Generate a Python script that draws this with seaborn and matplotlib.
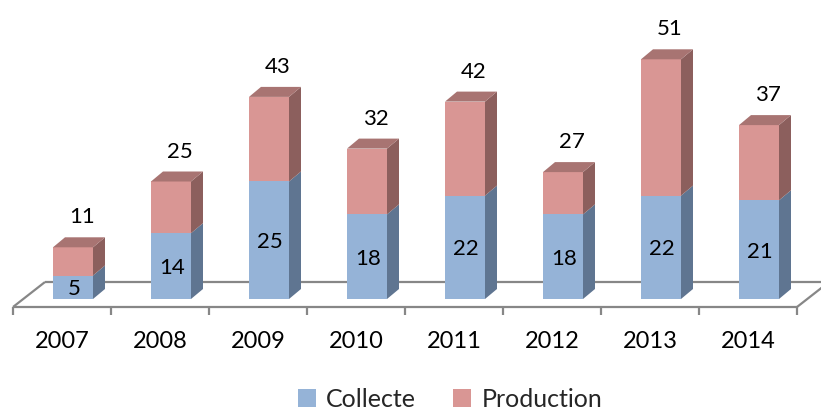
import numpy as np
import pandas as pd
import matplotlib
matplotlib.use("Agg")
import matplotlib.pyplot as plt
from matplotlib.patches import Polygon, Patch
import seaborn as sns

# Data
years = ["2007", "2008", "2009", "2010", "2011", "2012", "2013", "2014"]
collecte = [5, 14, 25, 18, 22, 18, 22, 21]
totals = [11, 25, 43, 32, 42, 27, 51, 37]   # Collecte + Production
series_names = ["Collecte", "Production"]

# Colours (front / side / top faces)
BLUE_FRONT, BLUE_SIDE = "#95B3D7", "#5F7591"
RED_FRONT, RED_SIDE, RED_TOP = "#D99694", "#8C5F5D", "#A87472"
FLOOR = "#878787"

sns.set_theme(style="white")
plt.rcParams["font.family"] = ["Lato", "DejaVu Sans"]

W, H, DPI = 821, 416, 100
fig = plt.figure(figsize=(W / DPI, H / DPI), dpi=DPI)
ax = fig.add_axes([0, 0, 1, 1])

# Pixel geometry of the pseudo-3D frame
PX_X = 98.0          # pixels per category
PX_Y = 4.7           # pixels per unit of value
X0_PX, Y0_PX = 73, 299   # pixel position of the first bar centre / base
BAR_W = 40 / PX_X
DEPTH = (12, 10)     # bar depth (dx, dy) in pixels
FLOOR_GAP = (11, 8)  # floor front edge in front of the bars
FLOOR_DEPTH = (32, 25)

def dx(px):
    return px / PX_X

def dy(px):
    return px / PX_Y

df = pd.DataFrame({"year": years, "Collecte": collecte, "Total": totals})

sns.barplot(data=df, x="year", y="Total", color=RED_FRONT, saturation=1,
            width=BAR_W, errorbar=None, linewidth=0, ax=ax, zorder=3)
sns.barplot(data=df, x="year", y="Collecte", color=BLUE_FRONT, saturation=1,
            width=BAR_W, errorbar=None, linewidth=0, ax=ax, zorder=4)

n = len(years)
ax.set_xlim(-X0_PX / PX_X, (W - X0_PX) / PX_X)
ax.set_ylim(-(H - Y0_PX) / PX_Y, Y0_PX / PX_Y)
ax.axis("off")

patches = list(ax.patches)
red_bars, blue_bars = patches[:n], patches[n:2 * n]
ddx, ddy = dx(DEPTH[0]), dy(DEPTH[1])

# Side and top faces built from the drawn bars
for rb, bb in zip(red_bars, blue_bars):
    xl = rb.get_x()
    xr = xl + rb.get_width()
    c = bb.get_height()
    t = rb.get_height()
    ax.add_patch(Polygon([(xr, 0), (xr + ddx, ddy), (xr + ddx, c + ddy), (xr, c)],
                         closed=True, facecolor=BLUE_SIDE, lw=0, zorder=4))
    ax.add_patch(Polygon([(xr, c), (xr + ddx, c + ddy), (xr + ddx, t + ddy), (xr, t)],
                         closed=True, facecolor=RED_SIDE, lw=0, zorder=4))
    ax.add_patch(Polygon([(xl, t), (xl + ddx, t + ddy), (xr + ddx, t + ddy), (xr, t)],
                         closed=True, facecolor=RED_TOP, lw=0, zorder=4))

# Floor outline
fx0 = -0.5 - dx(FLOOR_GAP[0])
fx1 = n - 0.5 - dx(FLOOR_GAP[0])
fy = -dy(FLOOR_GAP[1])
bx, by = dx(FLOOR_DEPTH[0]), dy(FLOOR_DEPTH[1])
floor_kw = dict(color=FLOOR, lw=1.6, solid_capstyle="butt", zorder=1, clip_on=False)
ax.plot([fx0, fx1], [fy, fy], **floor_kw)
ax.plot([fx0, fx0 + bx], [fy, fy + by], **floor_kw)
ax.plot([fx1, fx1 + bx], [fy, fy + by], **floor_kw)
ax.plot([fx0 + bx, fx1 + bx], [fy + by, fy + by], **floor_kw)

# Category ticks and labels on the floor's front edge
for k in range(n + 1):
    xt = fx0 + k
    ax.plot([xt, xt], [fy, fy - dy(8)], **floor_kw)
for i, yr in enumerate(years):
    ax.text(i - dx(FLOOR_GAP[0]), fy - dy(34), yr, ha="center", va="center",
            fontsize=17, color="black")

# Value labels
for i, (c, t) in enumerate(zip(collecte, totals)):
    ax.annotate(str(c), (i, c / 2), xytext=(1, -2), textcoords="offset pixels",
                ha="center", va="center", fontsize=16, color="black", zorder=6)
    ax.annotate(str(t), (i, t), xytext=(9, 30), textcoords="offset pixels",
                ha="center", va="center", fontsize=16, color="black", zorder=6)

# Legend
handles = [Patch(facecolor=BLUE_FRONT, edgecolor="none"),
           Patch(facecolor=RED_FRONT, edgecolor="none")]
fig.legend(handles, series_names, loc="center", bbox_to_anchor=(0.548, 0.04),
           ncol=2, frameon=False, fontsize=18, handlelength=0.72, handleheight=0.72,
           handletextpad=0.4, columnspacing=1.5, borderpad=0)

fig.savefig("out.png", dpi=DPI)
